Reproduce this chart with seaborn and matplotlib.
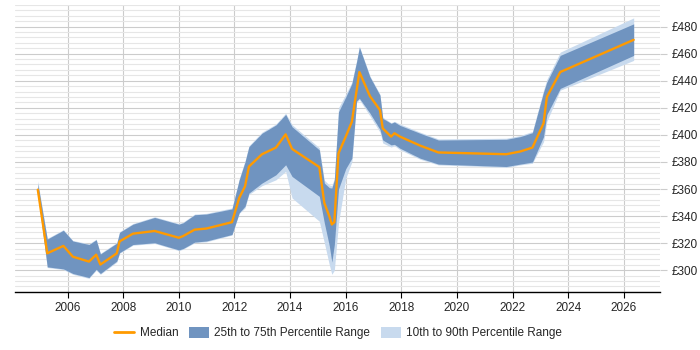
import pandas as pd
import seaborn as sns
import matplotlib
matplotlib.use('Agg')
import matplotlib.pyplot as plt
from matplotlib.lines import Line2D
from matplotlib.patches import Patch
from matplotlib.ticker import MultipleLocator, FuncFormatter

# Daten
years = [2004.93, 2005.27, 2005.85, 2006.19, 2006.77, 2007.03, 2007.18, 2007.77, 2007.87,
         2008.35, 2009.13, 2010.0, 2010.15, 2010.57, 2010.99, 2011.91, 2012.17, 2012.38,
         2012.52, 2012.99, 2013.49, 2013.84, 2014.07, 2015.05, 2015.23, 2015.41, 2015.5,
         2015.59, 2015.74, 2016.0, 2016.22, 2016.39, 2016.49, 2016.87, 2017.23, 2017.33,
         2017.63, 2017.75, 2017.95, 2018.67, 2019.33, 2021.77, 2022.27, 2022.71, 2023.11,
         2023.23, 2023.71, 2026.35]

median = [359.5, 312.5, 318, 310, 306.4, 311.5, 304.2, 312.5, 321.3,
          327, 329, 324, 325.2, 330, 330.8, 335.5, 353.4, 362,
          376.6, 385.7, 390.6, 400.4, 389.6, 376.2, 349.7, 339.9, 333.8,
          335.5, 386.4, 398.7, 409.7, 432.8, 446.4, 428.6, 418.3, 404.8,
          398.7, 401.2, 398.7, 392.1, 387, 385.7, 387.7, 390.6, 408.5,
          428, 446.4, 470.2]

p25 = [357, 302.5, 301, 297.6, 294.6, 300.7, 297.6, 306.8, 313,
       319, 320.3, 315, 316, 320.8, 321.6, 326.4, 342.4, 347.3,
       357, 364.4, 370.5, 377.9, 369.3, 354.6, 335, 318, 306,
       319, 360, 375, 382.8, 425, 427, 416, 404, 396.2,
       392.6, 393, 390.1, 382.8, 378.4, 376.6, 378.4, 379.9, 398.7,
       415, 434.3, 458.7]

p75 = [364, 323, 329.5, 321.6, 319, 322.5, 312, 320, 328,
       334, 339, 334, 335, 341, 341.5, 345.3, 366.8, 380,
       391.3, 401.2, 407.3, 415.1, 406, 388.9, 364.4, 361, 360.7,
       366.8, 417, 428, 437.9, 454, 464.8, 442.8, 429.3, 412.2,
       408.5, 409.5, 407, 401.2, 396.2, 396.7, 398.7, 401.6, 431.6,
       439.1, 458.7, 482]

p10 = [356, 302, 300.5, 297, 294, 300, 297, 306, 312.5,
       318.5, 319.8, 314.5, 315.5, 320.3, 321, 326, 342, 346,
       356, 362.5, 366.8, 373, 353.4, 336.2, 320.3, 304, 297,
       300, 335, 368, 380, 424, 426, 414, 402, 394,
       391, 392, 389, 382, 377.8, 376, 377.8, 379, 395,
       410, 433, 455]

p90 = [366, 323.5, 330, 322, 319.5, 323, 312.5, 320.5, 328.5,
       334.5, 339.5, 334.5, 335.5, 341.5, 342, 346, 367.5, 381,
       392, 402, 408, 416, 407.5, 390.5, 366.5, 363, 362.5,
       368, 420, 430, 439, 455, 465.5, 443.5, 430, 413,
       409, 410, 408, 402, 397, 397.5, 399.5, 402.5, 433,
       441, 461.1, 486.4]

x_ticks = [2006, 2008, 2010, 2012, 2014, 2016, 2018, 2020, 2022, 2024, 2026]

df = pd.DataFrame({'year': years, 'median': median,
                   'p10': p10, 'p25': p25, 'p75': p75, 'p90': p90})

c_median = '#ff9a00'
c_iqr = '#7094c0'
c_outer = '#c8daee'

sns.set_style('white')
plt.rcParams['font.family'] = ['Liberation Sans', 'DejaVu Sans']

fig = plt.figure(figsize=(7, 3.5), dpi=100)
ax = fig.add_axes([0.021, 0.166, 0.922, 0.820])

ax.fill_between(df['year'], df['p10'], df['p90'], color=c_outer, lw=0, zorder=2)
ax.fill_between(df['year'], df['p25'], df['p75'], color=c_iqr, lw=0, zorder=3)
sns.lineplot(data=df, x='year', y='median', color=c_median, lw=1.7, ax=ax, zorder=4)

ax.set_xlim(2004.1, 2027.3)
ax.set_ylim(284, 496)
ax.set_xticks(x_ticks)
ax.yaxis.set_major_locator(MultipleLocator(20))
ax.yaxis.set_minor_locator(MultipleLocator(4))
ax.yaxis.set_major_formatter(FuncFormatter(lambda v, p: f'£{v:.0f}'))
ax.yaxis.tick_right()
ax.set_xlabel('')
ax.set_ylabel('')

ax.grid(axis='x', which='major', color='#cccccc', lw=0.8, zorder=0)
ax.grid(axis='y', which='major', color='#cccccc', lw=0.8, zorder=0)
ax.grid(axis='y', which='minor', color='#e6e6e6', lw=0.8, zorder=0)
ax.set_axisbelow(True)

for s in ['top', 'left', 'right']:
    ax.spines[s].set_visible(False)
ax.spines['bottom'].set_color('black')
ax.spines['bottom'].set_linewidth(1)

ax.tick_params(axis='x', which='major', length=4, color='black', labelsize=8.5, pad=3, bottom=True)
ax.tick_params(axis='y', which='major', length=5, color='#cccccc', labelsize=8.5, pad=3, right=True, left=False)
ax.tick_params(axis='y', which='minor', length=0)

handles = [Line2D([0], [0], color=c_median, lw=2),
           Patch(facecolor=c_iqr, edgecolor='none'),
           Patch(facecolor=c_outer, edgecolor='none')]
labels = ['Median', '25th to 75th Percentile Range', '10th to 90th Percentile Range']
fig.legend(handles, labels, loc='lower center', bbox_to_anchor=(0.483, 0.0), ncol=3,
           frameon=False, fontsize=8.5, handlelength=1.7, handleheight=1.0,
           columnspacing=0.9, handletextpad=0.45)

fig.savefig('out.png', dpi=100)
